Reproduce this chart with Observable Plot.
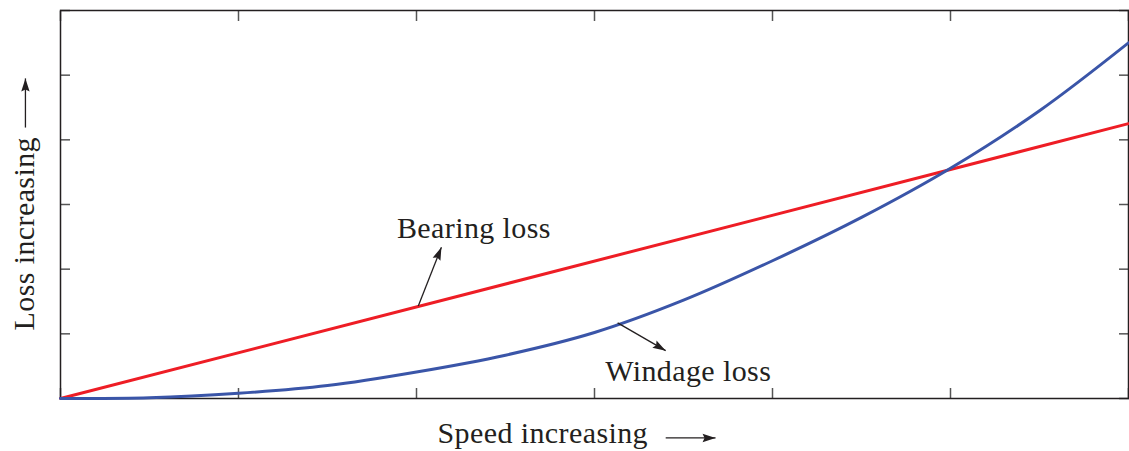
<!DOCTYPE html>
<html>
<head>
<meta charset="utf-8">
<script src="https://cdn.jsdelivr.net/npm/d3@7"></script>
<script src="https://cdn.jsdelivr.net/npm/@observablehq/plot@0.6"></script>
<style>
  html, body { margin: 0; padding: 0; background: #fff; }
  #chart svg { display: block; }
  #chart svg text { letter-spacing: 0.4px; }
</style>
</head>
<body>
<div id="chart"></div>
<script>
// Speed (arbitrary units, 0..6) and losses (arbitrary units)
const speed = [0, 0.5, 1, 1.5, 2, 2.5, 3, 3.5, 4, 4.5, 5, 5.5, 6];
const windageLoss = [0, 0.01, 0.08, 0.2, 0.41, 0.67, 1.02, 1.52, 2.13, 2.8, 3.56, 4.45, 5.5];
const bearingSpeed = [0, 6];
const bearingLoss = [0, 4.25];

const xTicks = [0, 1, 2, 3, 4, 5, 6];
const yTicks = [0, 1, 2, 3, 4, 5, 6];

// annotation arrows in data units (tip = x2,y2; angle = head direction, degrees clockwise from up)
const arrows = [
  {x1: 2.01, y1: 1.43, x2: 2.14, y2: 2.34, angle: 22},    // Bearing loss pointer
  {x1: 3.13, y1: 1.17, x2: 3.4, y2: 0.74, angle: 120},    // Windage loss pointer
  {x1: 3.4, y1: -0.61, x2: 3.68, y2: -0.61, angle: 90},   // x-axis label arrow
  {x1: -0.197, y1: 4.19, x2: -0.197, y2: 4.95, angle: 0}  // y-axis label arrow
];
const labels = [
  {x: 1.89, y: 2.48, text: "Bearing loss"},
  {x: 3.06, y: 0.27, text: "Windage loss"}
];

const windage = speed.map((s, i) => ({x: s, y: windageLoss[i]}));
const bearing = bearingSpeed.map((s, i) => ({x: s, y: bearingLoss[i]}));

const serif = "'Liberation Serif', 'DejaVu Serif', serif";
const ink = "#231f20";

// narrow filled arrowhead, tip at origin, pointing up
const arrowHead = {
  draw(context) {
    context.moveTo(0, 0);
    context.lineTo(-4.2, 13);
    context.lineTo(0, 11);
    context.lineTo(4.2, 13);
    context.closePath();
  }
};

const chart = Plot.plot({
  width: 1129,
  height: 451,
  marginLeft: 60,
  marginRight: 1,
  marginTop: 10,
  marginBottom: 53,
  style: {fontFamily: serif, background: "#fff"},
  x: {domain: [0, 6]},
  y: {domain: [0, 6]},
  marks: [
    Plot.axisX({anchor: "bottom", ticks: xTicks, tickSize: -10, tickFormat: () => "", label: null, stroke: "#555", strokeWidth: 1.5}),
    Plot.axisX({anchor: "top", ticks: xTicks, tickSize: -10, tickFormat: () => "", label: null, stroke: "#555", strokeWidth: 1.5}),
    Plot.axisY({anchor: "left", ticks: yTicks, tickSize: -10, tickFormat: () => "", label: null, stroke: "#555", strokeWidth: 1.5}),
    Plot.axisY({anchor: "right", ticks: yTicks, tickSize: -10, tickFormat: () => "", label: null, stroke: "#555", strokeWidth: 1.5}),
    Plot.frame({stroke: ink, strokeWidth: 1.5}),
    Plot.line(bearing, {x: "x", y: "y", stroke: "#ee1d25", strokeWidth: 3}),
    Plot.line(windage, {x: "x", y: "y", stroke: "#3a55a8", strokeWidth: 3, curve: "catmull-rom"}),
    Plot.link(arrows, {x1: "x1", y1: "y1", x2: "x2", y2: "y2", stroke: ink, strokeWidth: 1.3}),
    Plot.dot(arrows, {x: "x2", y: "y2", rotate: "angle", symbol: arrowHead, r: 5, fill: ink, stroke: "none"}),
    Plot.text(labels, {x: "x", y: "y", text: "text", textAnchor: "start", lineAnchor: "bottom", fontSize: 30, fill: ink, fontFamily: serif}),
    Plot.text(["Speed increasing"], {frameAnchor: "bottom-left", dx: 377, dy: 44, textAnchor: "start", lineAnchor: "bottom", fontSize: 30, fill: ink, fontFamily: serif}),
    Plot.text(["Loss increasing"], {frameAnchor: "bottom-left", dx: -27, dy: -68, rotate: -90, textAnchor: "start", lineAnchor: "bottom", fontSize: 30, fill: ink, fontFamily: serif})
  ]
});
document.getElementById("chart").appendChild(chart);
</script>
</body>
</html>
